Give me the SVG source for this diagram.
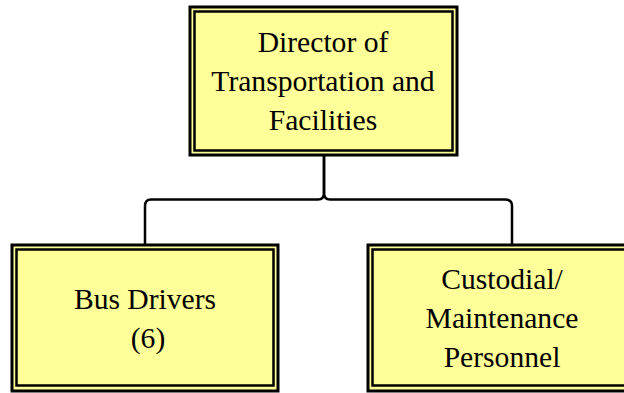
<svg xmlns="http://www.w3.org/2000/svg" width="624" height="393" viewBox="0 0 624 393">
<style>
.outer{fill:#ffff99;stroke:#000;stroke-width:3}
.inner{fill:none;stroke:#000;stroke-width:2.5}
.t{font-family:"Liberation Serif","Times New Roman",serif;font-size:29.6px;fill:#000;text-anchor:middle}
.c{fill:none;stroke:#000;stroke-width:2.5;stroke-linejoin:round}
</style>
<rect width="624" height="393" fill="#fff"/>
<g id="connectors">
<path class="c" d="M324,156 V193 Q324,199.5 318,199.5 H151 Q145,199.5 145,206 V244"/>
<path class="c" d="M324,156 V193 Q324,199.5 330,199.5 H505 Q512,199.5 512,206 V244"/>
</g>
<g id="director">
<rect class="outer" x="190" y="7" width="267" height="148"/>
<rect class="inner" x="194.5" y="11.5" width="258" height="139"/>
<text class="t" x="323" y="52">Director of</text>
<text class="t" x="323" y="91">Transportation and</text>
<text class="t" x="323" y="130">Facilities</text>
</g>
<g id="bus">
<rect class="outer" x="12" y="245" width="266" height="146"/>
<rect class="inner" x="16.5" y="249.5" width="257" height="136"/>
<text class="t" x="145" y="309">Bus Drivers</text>
<text class="t" x="148" y="348">(6)</text>
</g>
<g id="custodial">
<rect class="outer" x="368" y="245" width="270" height="146"/>
<rect class="inner" x="372.5" y="249.5" width="261" height="136"/>
<text class="t" x="502" y="289">Custodial/</text>
<text class="t" x="502" y="328">Maintenance</text>
<text class="t" x="502" y="367">Personnel</text>
</g>
</svg>
